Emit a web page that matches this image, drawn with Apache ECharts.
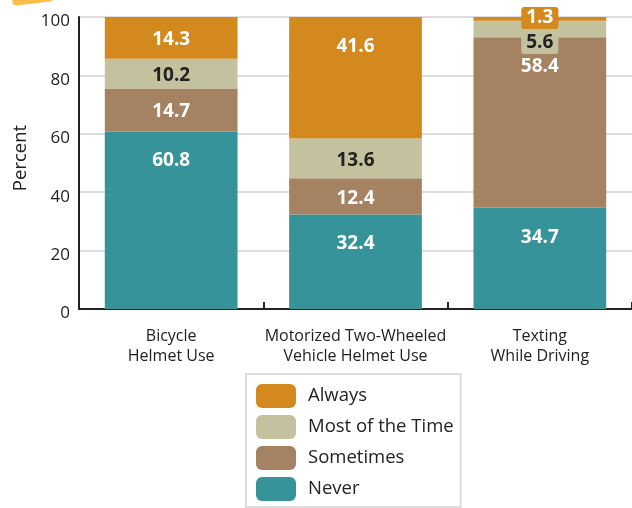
<!DOCTYPE html>
<html>
<head>
<meta charset="utf-8">
<script src="https://cdn.jsdelivr.net/npm/echarts@6/dist/echarts.min.js"></script>
<style>
  html, body { margin: 0; padding: 0; background: #fff; }
  #chart { width: 632px; height: 508px; }
</style>
</head>
<body>
<div id="chart"></div>
<script>
// Categories along the x axis
const categories = ['Bicycle\nHelmet Use', 'Motorized Two-Wheeled\nVehicle Helmet Use', 'Texting\nWhile Driving'];

// Share of respondents (%) per frequency
const never = [60.8, 32.4, 34.7];
const sometimes = [14.7, 12.4, 58.4];
const mostOfTheTime = [10.2, 13.6, 5.6];
const always = [14.3, 41.6, 1.3];

// Legend order (top to bottom)
const legendOrder = ['Always', 'Most of the Time', 'Sometimes', 'Never'];

const FONT = '"Open Sans", "Noto Sans", sans-serif';

// Series definitions, stacked from the bottom up
const seriesDefs = [
  { name: 'Never', values: never, color: '#37939A', text: '#ffffff' },
  { name: 'Sometimes', values: sometimes, color: '#A48262', text: '#ffffff' },
  { name: 'Most of the Time', values: mostOfTheTime, color: '#C4C29E', text: '#222222' },
  { name: 'Always', values: always, color: '#D4891E', text: '#ffffff' }
];

// Thin segments get a coloured tag so the value stays readable
const tagOffsets = { 'Always': [0, -1], 'Most of the Time': [0, 14] };

function buildSeries(def) {
  return {
    name: def.name,
    type: 'bar',
    stack: 'total',
    barCategoryGap: '28%',
    itemStyle: { color: def.color },
    data: def.values.map(v => {
      const item = { value: v };
      if (v >= 20) {
        item.label = { position: 'insideTop', distance: 19 };
      } else if (v < 8) {
        item.label = {
          position: 'inside',
          offset: tagOffsets[def.name] || [0, 0],
          backgroundColor: def.color,
          borderRadius: 3,
          padding: [1, 5, 0, 5]
        };
      } else {
        item.label = { position: 'inside', offset: [0, 2] };
      }
      return item;
    }),
    label: {
      show: true,
      color: def.text,
      fontFamily: FONT,
      fontWeight: 'bold',
      fontSize: 19,
      lineHeight: 21,
      formatter: p => p.value.toFixed(1)
    }
  };
}

const chart = echarts.init(document.getElementById('chart'), null, { renderer: 'canvas' });

chart.setOption({
  animation: false,
  textStyle: { fontFamily: FONT },
  grid: { left: 79, right: -2, top: 17, bottom: 199, containLabel: false },
  graphic: [{
    type: 'polygon',
    shape: { points: [[12, 0], [53, 0], [50, 1.5], [16, 5.5], [13, 4]] },
    style: { fill: '#FDBB4A' }
  }],
  legend: {
    orient: 'vertical',
    left: 246,
    top: 374,
    data: legendOrder,
    itemWidth: 40,
    itemHeight: 24,
    itemGap: 7,
    borderColor: '#dddddd',
    borderWidth: 2,
    padding: [10, 7, 6, 10],
    textStyle: { fontFamily: FONT, fontSize: 18.5, color: '#222', padding: [0, 0, 0, 7] }
  },
  xAxis: {
    type: 'category',
    data: categories,
    axisLine: { show: true, lineStyle: { color: '#222', width: 2 } },
    axisTick: { show: true, inside: true, length: 7, lineStyle: { color: '#222', width: 2 } },
    axisLabel: { interval: 0, fontFamily: FONT, fontSize: 16, lineHeight: 20, color: '#222', margin: 17 },
    splitLine: { show: false }
  },
  yAxis: {
    type: 'value',
    min: 0,
    max: 100,
    interval: 20,
    name: 'Percent',
    nameLocation: 'middle',
    nameRotate: 90,
    nameGap: 46,
    nameTextStyle: { fontFamily: FONT, fontSize: 18.5, color: '#222', padding: [0, 0, 0, 10] },
    axisLine: { show: true, lineStyle: { color: '#222', width: 2 } },
    axisTick: { show: false },
    axisLabel: { fontFamily: FONT, fontSize: 17, color: '#222', margin: 9, verticalAlign: 'top', lineHeight: 9 },
    splitLine: { show: true, lineStyle: { color: '#dddddd', width: 2 } }
  },
  series: seriesDefs.map(buildSeries)
});
</script>
</body>
</html>
